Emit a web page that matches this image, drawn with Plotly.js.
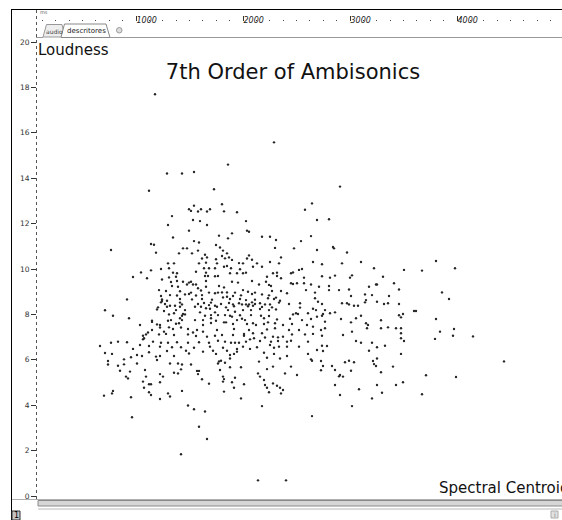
<!DOCTYPE html>
<html><head><meta charset="utf-8">
<script src="https://cdn.plot.ly/plotly-3.0.1.min.js"></script>
<style>html,body{margin:0;padding:0;background:#fff;overflow:hidden}#chart{width:562px;height:520px}</style>
</head><body><div id="chart"></div>
<script>
// Spectral centroid (Hz-like units) and loudness of each analysed frame
const centroid = [
1910,1300,1450,1570,1770,1120,1850,1570,1520,1540,
1610,1640,1700,1730,1870,2000,2680,1350,1560,1630,
2090,1310,1700,1520,2100,2120,1950,1820,1910,2250,
2330,1360,2390,1570,1620,2640,1140,1170,1790,1830,
2380,1460,1500,2570,740,1610,1860,1190,1420,1550,
1900,2120,1680,1700,1850,1880,1920,1950,2440,1650,
1790,2100,2150,1310,1370,1620,1690,1800,2020,2060,
2200,2330,2420,1870,1900,2160,2250,1720,1940,1240,
1320,1670,1780,2030,1140,1040,2620,2650,2560,2540,
1360,1400,1590,1690,1780,1930,2000,2060,2090,2360,
2400,960,1100,1250,1320,1390,1710,1810,1680,2300,
2400,2440,2670,1340,1400,1460,1520,1540,1500,1560,
1590,1690,1950,2010,2150,2220,2290,2320,2340,2540,
2560,2600,2670,1350,1410,1610,1690,1870,1820,1220,
1290,1430,1540,1640,1720,1810,1850,1900,1980,2060,
2110,2180,2350,2440,2690,1240,1330,1400,1480,1520,
1590,1650,1780,1900,1960,2040,2150,2250,2320,2390,
2500,900,1250,1250,1300,1430,1550,1650,1750,1860,
1930,2030,2090,2180,2310,2370,2430,1240,1280,1330,
1430,1450,1610,1670,1720,1740,1780,1840,1920,1960,
2020,2050,2090,2120,2150,2180,2230,2280,2330,2420,
2520,2630,1210,1300,1380,1430,1580,1640,1690,1730,
1800,1890,1970,2110,2160,2250,2350,2630,680,1200,
1270,1370,1390,1480,1630,1780,1910,1980,2060,2140,
2230,2320,2390,2590,2610,760,920,1320,1450,1460,
1480,1680,1740,1810,1880,1930,1950,2030,2140,2240,
2320,2560,2710,1150,1150,1310,1340,1430,1450,1580,
1660,1740,1790,2000,2050,2080,2270,2400,2530,2650,
1030,1200,1230,1390,1420,1660,1740,1870,1890,1960,
2100,2160,2190,2270,2310,2380,2460,2550,2700,1150,
1230,1270,1320,1360,1440,1510,1560,1600,1660,1800,
1970,2070,2120,2160,2250,2300,2380,2520,2620,1060,
1090,1110,1220,1290,1370,1510,1590,1700,1780,1850,
1960,2070,2170,2280,2360,2410,2460,2550,2680,740,
810,900,1060,1070,1160,1240,1310,1400,1510,1620,
1720,1810,1880,1940,1980,2020,2090,2130,2230,2340,
2410,2500,2540,2710,630,960,1030,1120,1230,1350,
1440,1570,1730,1860,2000,2060,2130,2200,2330,2370,
2420,2500,2620,
680,750,1000,1050,1120,1190,1230,1300,1370,1490,
1520,1660,1760,1790,1900,1930,1970,2000,2270,2300,
2370,2430,2500,2710,710,870,940,1000,1200,1330,
1410,1450,1540,1810,1820,1840,1880,1930,2220,2360,
2540,710,810,870,830,930,1080,1230,1260,1370,
1410,1440,1600,1620,1610,1830,1930,2040,2210,2230,
2300,2480,2600,890,910,1090,1060,1120,1140,1070,
1230,1650,1720,1860,1870,1860,1950,1980,1970,2070,
2270,2280,2360,2400,2430,2460,2300,760,750,670,
940,1120,1140,1310,1330,1230,1450,1870,2040,2320,
2440,1510,1570,1680,2250,950,1620,1700,1440,2210,
2490,
3030,2750,2800,2920,2740,2800,2960,2970,3100,2760,
2850,3050,3240,3370,3670,3850,3990,4180,2850,2930,
2980,3130,3150,3460,2740,2820,2920,2920,3020,3120,
3320,3390,3400,3570,3620,2780,2780,2810,2850,3140,
3280,3290,3280,3350,3400,3520,3470,3510,3620,4050,
4120,3050,3100,3120,3170,3210,2760,2790,2880,2860,
2850,2930,2980,3240,3770,3790,3620,3640,3660,2740,
2800,2880,3040,3140,3190,3290,3310,3440,3300,3440,
3510,3590,3640,3640,3640,3670,3990,4030,4170,4160,
4360,3980,2760,2840,2880,2760,2850,3060,3150,2850,
2900,2800,2860,3190,3240,3350,3320,3400,3480,3640,
2740,2750,2840,3080,3120,3170,3360,3400,3370,3390,
3560,2860,2950,2980,2840,3140,3440,4670,3890,4190,
3030,3060,3020,2980,3220,3400,3590,3660,3450,3350,
3850,3030,3150,2750,1180,2370
];
const loudness = [
14.60,14.21,14.21,14.27,13.51,13.45,12.85,12.79,12.63,12.56,
12.53,12.63,12.53,12.63,12.54,12.50,12.61,12.33,12.16,12.11,
12.11,11.94,11.94,11.69,11.69,11.64,11.57,11.47,11.35,11.42,
11.42,11.39,11.28,11.23,11.17,11.23,11.10,11.07,11.06,10.95,
10.93,10.91,10.91,10.91,10.84,10.81,10.81,10.72,10.69,10.69,
10.69,10.60,10.63,10.51,10.57,10.47,10.51,10.40,10.51,10.46,
10.43,10.46,10.41,10.25,10.25,10.25,10.28,10.25,10.26,10.25,
10.25,10.31,10.25,10.10,10.13,10.10,10.10,10.03,10.03,10.00,
10.03,10.03,10.03,9.99,9.94,9.85,9.96,10.00,9.85,9.81,
9.84,9.81,9.88,9.84,9.68,9.81,9.81,9.81,9.84,9.81,
9.84,9.65,9.59,9.54,9.63,9.66,9.69,9.69,9.69,9.66,
9.69,9.59,9.62,9.43,9.47,9.44,9.40,9.44,9.32,9.32,
9.32,9.47,9.44,9.40,9.47,9.32,9.44,9.30,9.25,9.37,
9.34,9.37,9.37,9.25,9.22,9.15,9.22,9.19,9.25,9.07,
9.03,9.02,8.96,9.05,8.96,8.96,8.97,8.97,8.96,9.07,
9.00,8.96,9.03,9.03,9.07,8.81,8.85,8.83,8.88,8.90,
8.83,8.85,8.93,8.78,8.81,8.84,8.90,8.88,8.84,8.74,
8.93,8.66,8.66,8.59,8.60,8.68,8.66,8.68,8.65,8.75,
8.68,8.68,8.63,8.65,8.71,8.68,8.60,8.53,8.46,8.38,
8.52,8.44,8.46,8.50,8.41,8.52,8.38,8.46,8.50,8.44,
8.49,8.44,8.44,8.44,8.53,8.46,8.49,8.44,8.44,8.52,
8.46,8.49,8.31,8.34,8.38,8.34,8.34,8.34,8.27,8.25,
8.34,8.31,8.36,8.36,8.38,8.33,8.31,8.30,8.18,8.22,
8.15,8.05,8.19,8.19,8.09,8.09,8.19,8.12,8.19,8.19,
8.24,8.19,8.22,8.05,8.02,7.94,7.83,8.00,7.94,8.02,
8.00,7.94,7.97,7.97,7.97,7.94,7.90,7.96,7.97,7.94,
7.93,8.00,8.05,7.72,7.67,7.72,7.75,7.83,7.75,7.75,
7.75,7.83,7.72,7.75,7.81,7.75,7.83,7.78,7.81,7.75,
7.53,7.56,7.53,7.59,7.61,7.53,7.62,7.65,7.65,7.58,
7.58,7.61,7.53,7.58,7.65,7.61,7.53,7.58,7.53,7.31,
7.42,7.24,7.43,7.36,7.42,7.36,7.20,7.31,7.24,7.31,
7.36,7.14,7.31,7.17,7.17,7.34,7.39,7.31,7.31,7.06,
7.12,7.20,7.12,7.14,7.09,7.12,7.05,7.02,7.06,7.09,
7.09,7.06,6.95,6.98,7.02,6.99,7.02,7.12,7.12,6.75,
6.80,6.77,6.90,6.95,6.80,6.75,6.75,6.77,6.75,6.77,
6.75,6.84,6.80,6.75,6.75,6.75,6.80,6.90,6.83,6.80,
6.83,6.80,6.84,6.80,6.61,6.48,6.65,6.61,6.58,6.55,
6.55,6.53,6.58,6.53,6.48,6.58,6.48,6.55,6.65,6.53,
6.58,6.58,6.58,
6.30,6.26,6.21,6.17,6.33,6.14,6.17,6.39,6.17,6.40,
6.28,6.36,6.40,6.26,6.40,6.21,6.26,6.36,6.31,6.09,
6.26,6.06,6.17,6.26,5.95,6.02,6.11,5.84,5.99,5.84,
5.84,5.79,5.79,5.84,5.93,5.96,5.87,6.06,5.92,5.70,
5.70,5.79,5.74,5.80,5.52,5.48,5.55,5.37,5.26,5.43,
5.40,5.58,5.51,5.51,5.37,5.55,5.67,5.67,5.40,5.26,
5.59,5.40,5.33,5.26,5.18,5.26,5.04,4.92,4.92,4.77,
5.01,5.14,4.95,5.26,5.15,5.04,5.01,5.21,4.77,4.92,
5.11,4.89,4.96,4.86,4.77,4.67,4.77,4.63,4.52,4.42,
4.35,4.57,4.45,4.52,4.38,4.27,4.63,4.60,4.30,4.57,
4.52,3.99,3.82,3.72,3.96,3.47,3.05,2.51,1.84,0.69,
0.69,
13.63,12.89,12.16,12.19,11.45,10.84,10.97,10.91,10.73,10.31,
10.21,10.25,10.31,10.03,9.96,9.93,10.35,10.03,9.68,9.62,
9.71,9.62,9.72,9.66,9.32,9.22,9.25,9.07,9.07,9.10,
9.22,9.32,9.32,9.37,9.10,8.96,8.71,8.56,8.46,8.81,
8.88,8.63,8.53,8.85,8.56,8.81,8.46,8.49,8.46,8.97,
8.68,8.49,8.49,8.44,8.38,8.38,8.25,8.19,8.19,8.02,
7.94,8.05,8.09,7.94,8.15,8.15,7.96,7.87,8.02,7.80,
7.90,7.68,7.80,7.65,7.83,7.61,7.53,7.74,7.39,7.39,
7.43,7.39,7.39,7.17,6.95,6.83,7.80,7.24,7.36,7.06,
7.03,6.92,7.46,7.31,7.39,7.14,7.06,7.09,7.24,6.62,
6.61,6.43,6.39,6.83,6.75,6.75,6.40,6.55,6.62,6.26,
6.02,5.96,5.95,5.89,5.96,5.89,5.95,6.06,5.81,5.73,
5.70,5.73,5.73,5.55,5.54,5.52,5.45,5.93,5.32,5.24,
5.33,5.26,5.27,4.89,4.70,4.89,4.89,5.01,4.55,4.30,
4.48,4.45,3.96,3.52,17.70,15.58
];
const loudnessTicks = [0,2,4,6,8,10,12,14,16,18,20];
const rulerTicks = [1000,2000,3000,4000];
const rulerLabels = ['1000','2000','3000','4000'];
const titleText = '7th Order of Ambisonics';
const yLabel = 'Loudness';
const xLabel = 'Spectral Centroid';
const tabLabels = ['audio','descritores'];

const W = 562, H = 520, L = 37, T = 9, B = 20;
const PW = W - L, PH = H - T - B;
const fx = px => (px - L) / PW;
const fy = py => (H - B - py) / PH;
const pathOf = pts => pts.map((p, i) => (i ? 'L' : 'M') + fx(p[0]).toFixed(5) + ',' + fy(p[1]).toFixed(5)).join(' ') + ' Z';
const font = 'DejaVu Sans, Verdana, sans-serif';

const shapes = [
  // window frame
  {type:'line', xref:'paper', yref:'paper', x0:fx(11), x1:fx(562), y0:fy(9.5), y1:fy(9.5), line:{color:'#000', width:1}},
  {type:'line', xref:'paper', yref:'paper', x0:fx(11.5), x1:fx(11.5), y0:fy(9), y1:fy(520), line:{color:'#000', width:1}},
  // dotted left axis line
  {type:'line', xref:'paper', yref:'paper', x0:fx(36.5), x1:fx(36.5), y0:fy(10), y1:fy(500), line:{color:'#555', width:1, dash:'dot'}},
  // tab strip
  {type:'path', xref:'paper', yref:'paper', path:pathOf([[43,37],[46.5,24.5],[62,24.5],[65,37]]), fillcolor:'#eeeeee', line:{color:'#999', width:1}},
  {type:'path', xref:'paper', yref:'paper', path:pathOf([[61,37.5],[64.5,24],[106,24],[110,37.5]]), fillcolor:'#ffffff', line:{color:'#888', width:1}},
  {type:'line', xref:'paper', yref:'paper', x0:fx(110), x1:fx(562), y0:fy(37.5), y1:fy(37.5), line:{color:'#999', width:1}},
  {type:'line', xref:'paper', yref:'paper', x0:fx(36), x1:fx(43), y0:fy(37.5), y1:fy(37.5), line:{color:'#999', width:1}},
  {type:'circle', xref:'paper', yref:'paper', x0:fx(116.5), x1:fx(122), y0:fy(27.5), y1:fy(33), fillcolor:'#dddddd', line:{color:'#999', width:1}},
  // bottom scroll bar
  {type:'line', xref:'paper', yref:'paper', x0:fx(12), x1:fx(562), y0:fy(499.5), y1:fy(499.5), line:{color:'#b0b0b0', width:1}},
  {type:'rect', xref:'paper', yref:'paper', x0:fx(38), x1:fx(563), y0:fy(500.5), y1:fy(506), fillcolor:'#d6d6d6', line:{color:'#8a8a8a', width:1}},
  {type:'line', xref:'paper', yref:'paper', x0:fx(38), x1:fx(562), y0:fy(509), y1:fy(509), line:{color:'#b8b8b8', width:1}},
  {type:'rect', xref:'paper', yref:'paper', x0:fx(12), x1:fx(20), y0:fy(511), y1:fy(520), fillcolor:'#c4c4c4', line:{color:'#333', width:1}},
  {type:'rect', xref:'paper', yref:'paper', x0:fx(551), x1:fx(558), y0:fy(511), y1:fy(518), fillcolor:'#e2e2e2', line:{color:'#aaa', width:1}}
];

const ann = (text, px, py, size, opts) => Object.assign({
  text, xref:'paper', yref:'paper', x:fx(px), y:fy(py), showarrow:false,
  xanchor:'left', yanchor:'middle', font:{family:font, size, color:'#111'}
}, opts || {});

const annotations = [
  ann(yLabel, 36, 50.5, 15),
  ann(xLabel, 437, 487.5, 15),
  ann(tabLabels[0], 54.5, 31, 6, {xanchor:'center', font:{family:font, size:6, color:'#444'}}),
  ann(tabLabels[1], 86.5, 31, 7, {xanchor:'center', font:{family:font, size:7, color:'#222'}}),
  ann('ms', 38, 12, 5, {font:{family:font, size:5, color:'#666'}}),
  ann('1', 16, 515.5, 8, {xanchor:'center', font:{family:font, size:8, color:'#000'}}),
  ann('i', 554.5, 514.5, 6, {xanchor:'center', font:{family:font, size:6, color:'#777'}})
];

const yBottom = -4 / 22.7, yTop = 459 / 22.7;
const rLeft = (L - 29) / 0.107, rRight = (W - 29) / 0.107;

const data = [
  {type:'scatter', mode:'markers', x:centroid, y:loudness, xaxis:'x', yaxis:'y',
   marker:{size:2.4, color:'#262626'}, hoverinfo:'skip', showlegend:false},
  {type:'scatter', mode:'markers', x:[], y:[], xaxis:'x2', yaxis:'y', showlegend:false, hoverinfo:'skip'}
];

const layout = {
  width:W, height:H,
  margin:{l:L, r:0, t:T, b:B, pad:0},
  paper_bgcolor:'#ffffff', plot_bgcolor:'#ffffff',
  showlegend:false,
  title:{text:titleText, x:293/W, xanchor:'center', y:1 - 72/H, yanchor:'middle',
         font:{family:font, size:21, color:'#111'}},
  xaxis:{domain:[0,1], range:[0,5250], visible:false, fixedrange:true},
  xaxis2:{overlaying:'x', side:'top', anchor:'free', position:fy(20.5), range:[rLeft, rRight],
          tickvals:rulerTicks, ticktext:rulerLabels, ticks:'outside', ticklen:5, tickwidth:1, tickcolor:'#333',
          ticklabelposition:'outside right', ticklabelstandoff:-6,
          tickfont:{family:font, size:8, color:'#222', style:'italic'},
          minor:{dtick:125, ticks:'outside', ticklen:1, tickwidth:1, tickcolor:'#444'},
          showgrid:false, zeroline:false, showline:false, fixedrange:true},
  yaxis:{domain:[0, fy(37)], range:[yBottom, yTop], tickvals:loudnessTicks,
         ticks:'outside', ticklen:5, tickwidth:1, tickcolor:'#333',
         tickfont:{family:font, size:7.5, color:'#333'},
         showgrid:false, zeroline:false, showline:false, fixedrange:true},
  shapes, annotations
};

Plotly.newPlot('chart', data, layout, {staticPlot:true, displayModeBar:false});
</script>
</body></html>
